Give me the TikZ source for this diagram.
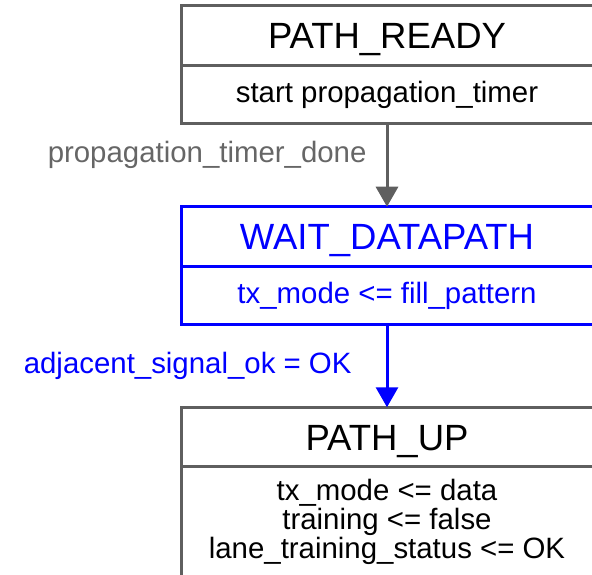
\documentclass[tikz,border=0pt]{standalone}
\usepackage{fontspec}
\setmainfont{Liberation Sans}
\usetikzlibrary{positioning,arrows.meta}

\definecolor{stategray}{RGB}{95,95,95}
\definecolor{labelgray}{RGB}{102,102,102}
\definecolor{activeblue}{RGB}{0,0,255}

\newcommand{\statefont}{\fontsize{36.5}{40}\selectfont}
\newcommand{\actfont}{\fontsize{29.4}{29}\selectfont}

\begin{document}
\begin{tikzpicture}[x=1pt, y=-1pt,
    state/.style={draw=stategray, line width=3pt, minimum width=412pt,
      minimum height=59.5pt, inner sep=0pt, outer sep=0pt, font=\statefont,
      text height=26pt, text depth=0pt},
    action/.style={state, minimum height=58.5pt, font=\actfont, align=center,
      text height=, text depth=},
    active/.style={draw=activeblue, text=activeblue},
    flow/.style={-{Triangle[width=22pt,length=20pt]}, line width=3pt, draw=stategray},
    cond/.style={inner sep=0pt, font=\actfont, anchor=base east}]

  % Cadre
  \useasboundingbox (0,0) rectangle (592,575);
  \clip (0,0) rectangle (592,575);

  % Etats
  \node[state] (ready) at (387,35.75) {PATH\_READY};
  \node[action, below=0pt of ready] (ready-act) {start propagation\_timer};

  \node[state, active] (wait) at (387,236.5) {WAIT\_DATAPATH};
  \node[action, active, below=0pt of wait] (wait-act) {tx\_mode <= fill\_pattern};

  \node[state] (up) at (387,437) {PATH\_UP};
  \node[action, below=0pt of up, minimum height=111pt] (up-act)
    {tx\_mode <= data\\training <= false\\lane\_training\_status <= OK};

  % Transitions
  \draw[flow] (ready-act) -- (wait)
    node[cond, midway, xshift=-19pt, yshift=2.5pt, text=labelgray] (timer-done)
    {propagation\_timer\_done};
  \draw[flow, draw=activeblue] (wait-act) -- (up)
    node[cond, midway, xshift=-34pt, yshift=-7pt, text=activeblue] (signal-ok)
    {adjacent\_signal\_ok = OK};

\end{tikzpicture}
\end{document}
